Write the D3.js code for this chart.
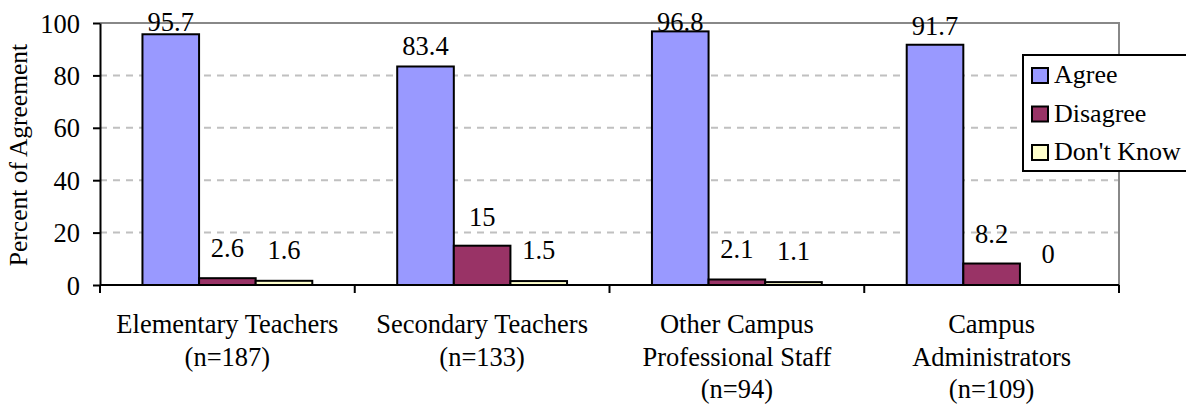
<!DOCTYPE html>
<meta charset="utf-8">
<body style="margin:0">
<svg width="1186" height="405" font-family="Liberation Serif, Times New Roman, serif"></svg>
<script src="https://cdnjs.cloudflare.com/ajax/libs/d3/7.8.5/d3.min.js"></script>
<script>

    var categories = ["Elementary Teachers (n=187)", "Secondary Teachers (n=133)",
        "Other Campus Professional Staff (n=94)", "Campus Administrators (n=109)"];
    var categoryLines = [
        ["Elementary Teachers", "(n=187)"],
        ["Secondary Teachers", "(n=133)"],
        ["Other Campus", "Professional Staff", "(n=94)"],
        ["Campus", "Administrators", "(n=109)"]
    ];
    var series = ["Agree", "Disagree", "Don't Know"];
    var agree = [95.7, 83.4, 96.8, 91.7];
    var disagree = [2.6, 15, 2.1, 8.2];
    var dontKnow = [1.6, 1.5, 1.1, 0];
    var yTicks = [0, 20, 40, 60, 80, 100];

    var colors = ["#9999ff", "#993366", "#ffffcc"];

    function font(sel, size) {
        sel.attr("font-family", "Liberation Serif, Times New Roman, serif")
            .style("font-family", "'Liberation Serif'")
            .style("font-size", size || "26.5px")
            .attr("fill", "#000");
    }

    var margin = {left: 100, right: 67, top: 23, bottom: 120},
        width = 1186,
        height = 405;

    var svg = d3.select("svg");

    var rows = categories.map(function(c, i) {
        return {cat: c, lines: categoryLines[i], values: [agree[i], disagree[i], dontKnow[i]]};
    });

    var x0 = d3.scaleBand()
        .domain(categories)
        .range([margin.left, width - margin.right])
        .padding(0);

    var x1 = d3.scaleBand()
        .domain(series)
        .range([0, x0.bandwidth()])
        .paddingInner(0)
        .paddingOuter(0.75);

    var y = d3.scaleLinear()
        .domain([0, 100])
        .range([height - margin.bottom, margin.top]);

    // grid lines
    svg.append("g").selectAll("line")
        .data(yTicks.filter(function(t) { return t > 0 && t < 100; }))
        .enter().append("line")
        .attr("x1", margin.left).attr("x2", width - margin.right)
        .attr("y1", y).attr("y2", y)
        .attr("stroke", "#c0c0c0")
        .attr("stroke-width", 2)
        .attr("stroke-dasharray", "7,6");

    // plot border (top + right)
    svg.append("path")
        .attr("d", "M" + margin.left + "," + y(100) + "H" + (width - margin.right) + "V" + y(0))
        .attr("fill", "none")
        .attr("stroke", "#888")
        .attr("stroke-width", 2);

    // bars
    var group = svg.selectAll(".grp")
        .data(rows)
        .enter().append("g")
        .attr("class", "grp")
        .attr("transform", function(d) { return "translate(" + x0(d.cat) + ",0)"; });

    group.selectAll("rect")
        .data(function(d) { return d.values.map(function(v, i) { return {s: series[i], v: v, i: i}; }); })
        .enter().append("rect")
        .attr("x", function(d) { return x1(d.s); })
        .attr("y", function(d) { return y(d.v); })
        .attr("width", x1.bandwidth())
        .attr("height", function(d) { return y(0) - y(d.v); })
        .attr("fill", function(d) { return colors[d.i]; })
        .attr("stroke", "#000")
        .attr("stroke-width", 2);

    // value labels
    group.selectAll(".val")
        .data(function(d) { return d.values.map(function(v, i) { return {s: series[i], v: v}; }); })
        .enter().append("text")
        .attr("class", "val")
        .attr("x", function(d) { return x1(d.s) + x1.bandwidth() / 2; })
        .attr("y", function(d) { return Math.max(31, y(d.v) - (22 - 0.13 * d.v)); })
        .attr("text-anchor", "middle")
        .call(font)
        .text(function(d) { return d.v; });

    // y axis
    var yAxis = svg.append("g")
        .attr("transform", "translate(" + margin.left + ",0)")
        .call(d3.axisLeft(y).tickValues(yTicks).tickSize(7).tickPadding(13).tickSizeOuter(0));
    yAxis.attr("font-family", null).attr("font-size", null);
    yAxis.selectAll("path, line").attr("stroke", "#000").attr("stroke-width", 2);
    yAxis.selectAll("text").attr("dy", "0.34em").call(font);

    // x axis: line + ticks at band edges
    var xAxis = svg.append("g")
        .attr("transform", "translate(0," + y(0) + ")");
    xAxis.append("line")
        .attr("x1", margin.left).attr("x2", width - margin.right);
    var edges = categories.map(function(c) { return x0(c); }).concat([x0.range()[1]]);
    xAxis.selectAll(".edge")
        .data(edges)
        .enter().append("line")
        .attr("class", "edge")
        .attr("x1", function(d) { return d; }).attr("x2", function(d) { return d; })
        .attr("y1", 0).attr("y2", 8);
    xAxis.selectAll("line").attr("stroke", "#000").attr("stroke-width", 2);

    // category labels
    svg.selectAll(".cat")
        .data(rows)
        .enter().append("text")
        .attr("class", "cat")
        .attr("text-anchor", "middle")
        .call(font)
        .attr("transform", function(d) { return "translate(" + (x0(d.cat) + x0.bandwidth() / 2) + "," + (y(0) + 48) + ")"; })
        .selectAll("tspan")
        .data(function(d) { return d.lines; })
        .enter().append("tspan")
        .attr("x", 0)
        .attr("y", function(d, i) { return i * 32.5; })
        .text(function(d) { return d; });

    // y axis title
    svg.append("text")
        .attr("transform", "translate(27," + ((y(0) + y(100)) / 2 + 1) + ") rotate(-90)")
        .attr("text-anchor", "middle")
        .call(font, "25.5px")
        .text("Percent of Agreement");

    // legend
    var legend = svg.append("g")
        .attr("transform", "translate(1023,55)");
    legend.append("rect")
        .attr("width", 170).attr("height", 116)
        .attr("fill", "#fff")
        .attr("stroke", "#000")
        .attr("stroke-width", 2);
    var item = legend.selectAll(".item")
        .data(series)
        .enter().append("g")
        .attr("class", "item")
        .attr("transform", function(d, i) { return "translate(9," + (13 + i * 38.5) + ")"; });
    item.append("rect")
        .attr("width", 16).attr("height", 15)
        .attr("fill", function(d, i) { return colors[i]; })
        .attr("stroke", "#000")
        .attr("stroke-width", 2);
    item.append("text")
        .attr("x", 22).attr("y", 15)
        .call(font, "26px")
        .text(function(d) { return d; });

</script>
